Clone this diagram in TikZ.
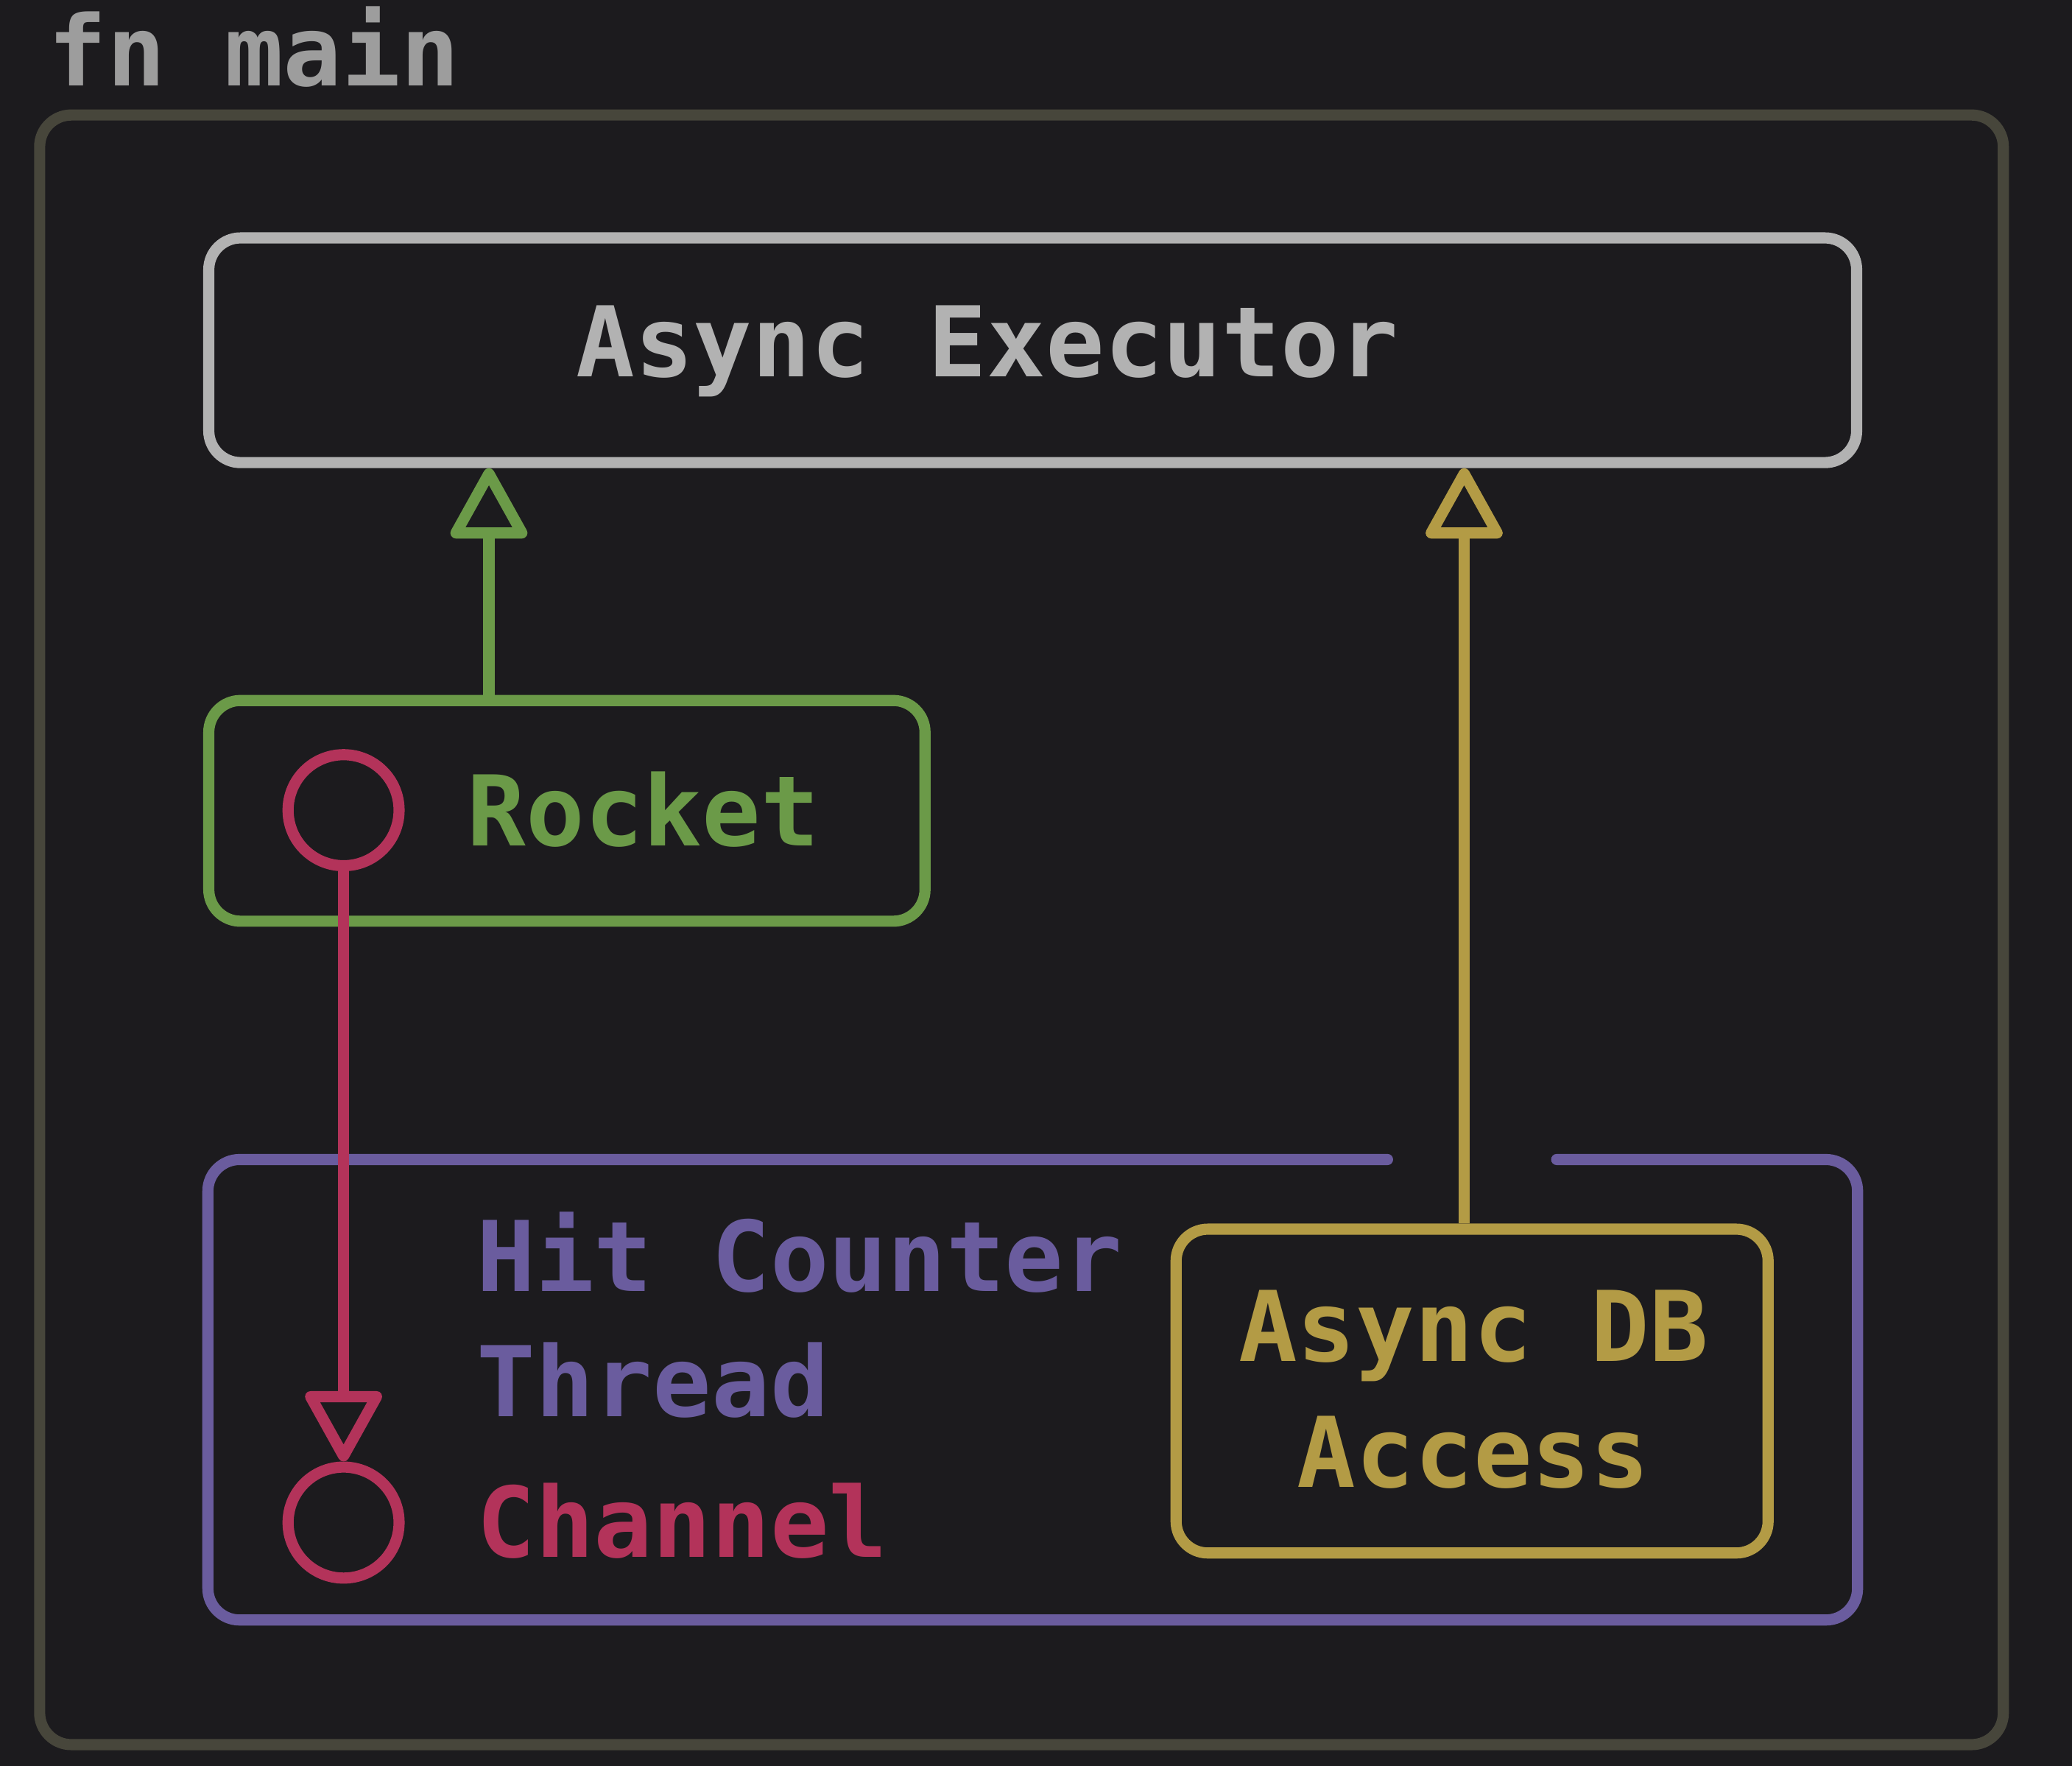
\documentclass[tikz,border=0pt]{standalone}
\usepackage{fontspec}
\setmonofont{DejaVu Sans Mono}
\usetikzlibrary{arrows.meta,positioning}
\definecolor{bg}{HTML}{1C1B1E}
\definecolor{mainc}{HTML}{47463B}
\definecolor{execc}{HTML}{B2B2B2}
\definecolor{rockc}{HTML}{6B9A48}
\definecolor{chanc}{HTML}{B3335A}
\definecolor{hitc}{HTML}{6A5C9E}
\definecolor{dbc}{HTML}{B39B45}

\begin{document}
\begin{tikzpicture}[
    box/.style={draw, line width=2.4pt, rounded corners=0.24cm, inner sep=0pt},
    lbl/.style={font=\fontsize{21}{25}\selectfont\ttfamily\bfseries, inner sep=0pt},
    port/.style={circle, draw=chanc, line width=2.4pt, minimum size=0.84cm, inner sep=0pt},
    up/.style={line width=2.4pt, -{Triangle[open, length=0.58cm, width=0.62cm, round]}}]
    \fill[bg] (0,0) rectangle (15.68,-13.36);
    \useasboundingbox (0,0) rectangle (15.68,-13.36);
       \node[box, draw=mainc, minimum width=14.86cm, minimum height=12.33cm] (main) at (7.73,-7.035) {};
       \node[lbl, text=execc!88!black, anchor=base west] (mainname) at (0.36,-0.65) {fn main};
       \node[box, draw=execc, minimum width=12.47cm, minimum height=1.70cm] (exec) at (7.815,-2.65) {};
       \node[lbl, text=execc, anchor=base] (execname) at (7.47,-2.85) {Async Executor};
       \node[box, draw=rockc, minimum width=5.42cm, minimum height=1.67cm] (rocket) at (4.29,-6.135) {};
       \node[port] (tx) at (2.60,-6.13) {};
       \node[lbl, text=rockc, anchor=base west] (rocketname) at (3.53,-6.40) {Rocket};
       \node[minimum width=12.47cm, minimum height=3.47cm, inner sep=0pt] (hit) at (7.815,-10.515) {};
       \node[box, draw=dbc, minimum width=4.48cm, minimum height=2.45cm] (db) at (11.14,-10.525) {};
       \node[lbl, text=dbc, anchor=base] (dbname) at (11.15,-10.30) {Async DB};
       \node[lbl, text=dbc, anchor=base] (dbname2) at (11.15,-11.25) {Access};
       \node[lbl, text=hitc, anchor=base west] (hitname) at (3.60,-9.77) {Hit Counter};
       \node[lbl, text=hitc, anchor=base west] (hitname2) at (3.60,-10.72) {Thread};
       \node[port] (rx) at (2.60,-11.52) {};
       \node[lbl, text=chanc, anchor=base west] (channame) at (3.60,-11.78) {Channel};
        % thread box, open where the db arrow goes through
        \draw[hitc, line width=2.4pt, rounded corners=0.24cm, line cap=round]
            ([xshift=-0.64cm]db.north |- hit.north) -- (hit.north west) -- (hit.south west)
            -- (hit.south east) -- (hit.north east) -- ([xshift=0.64cm]db.north |- hit.north);
        \draw[up, rockc] ([xshift=-0.59cm]rocket.north) -- ([xshift=-0.59cm]rocket.north |- exec.south);
        \draw[up, dbc] ([xshift=-0.06cm]db.north) -- ([xshift=-0.06cm]db.north |- exec.south);
        \draw[up, chanc] (tx) -- (rx);
    \end{tikzpicture}
\end{document}
